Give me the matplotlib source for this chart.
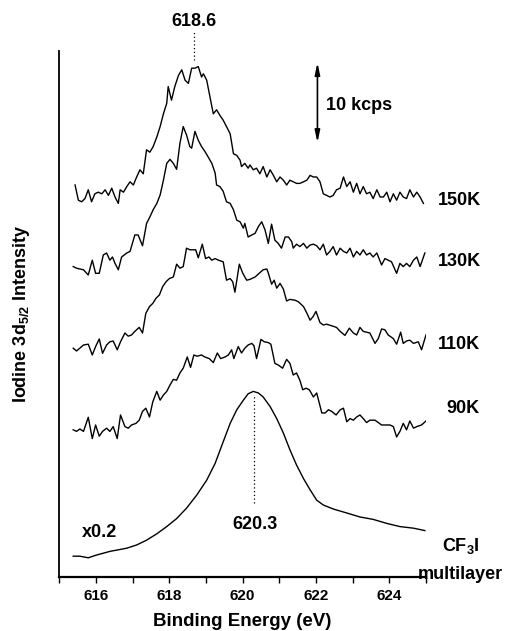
import matplotlib
matplotlib.use("Agg")
import matplotlib.pyplot as plt

plt.rcParams['font.family'] = ['Liberation Sans', 'DejaVu Sans']
plt.rcParams['font.weight'] = 'bold'
plt.rcParams['mathtext.fontset'] = 'custom'
plt.rcParams['mathtext.rm'] = 'Liberation Sans:bold'
plt.rcParams['mathtext.bf'] = 'Liberation Sans:bold'
plt.rcParams['mathtext.it'] = 'Liberation Sans:bold'

# ---------------- data (binding energy in eV, intensity in kcps incl. stacking) -------------
e_150 = [615.43, 615.52, 615.61, 615.70, 615.79, 615.88, 615.97, 616.06, 616.16, 616.25, 616.34, 616.43,
         616.52, 616.61, 616.66, 616.75, 616.84, 616.93, 617.02, 617.11, 617.20, 617.29, 617.38, 617.47,
         617.56, 617.66, 617.75, 617.84, 617.93, 617.97, 618.06, 618.15, 618.25, 618.34, 618.43, 618.52,
         618.61, 618.70, 618.79, 618.88, 618.93, 619.02, 619.11, 619.20, 619.29, 619.38, 619.47, 619.56,
         619.66, 619.75, 619.84, 619.93, 619.97, 620.06, 620.15, 620.20, 620.29, 620.38, 620.47, 620.56,
         620.66, 620.75, 620.84, 620.93, 621.02, 621.11, 621.20, 621.29, 621.38, 621.47, 621.56, 621.66,
         621.75, 621.84, 621.93, 622.02, 622.11, 622.20, 622.29, 622.38, 622.47, 622.56, 622.66, 622.75,
         622.84, 622.93, 623.02, 623.11, 623.20, 623.29, 623.38, 623.47, 623.56, 623.66, 623.75, 623.84,
         623.93, 624.02, 624.11, 624.20, 624.29, 624.38, 624.47, 624.56, 624.66, 624.75, 624.84, 624.93]
i_150 = [49.0, 47.1, 46.9, 47.3, 48.4, 46.9, 47.9, 48.1, 47.9, 48.4, 47.7, 48.6,
         47.5, 46.7, 48.4, 48.1, 48.8, 49.4, 49.0, 50.0, 50.9, 50.4, 53.4, 53.1,
         53.8, 55.0, 56.3, 57.9, 59.2, 61.3, 59.6, 61.3, 62.7, 63.4, 62.1, 61.7,
         63.6, 63.6, 63.8, 62.5, 62.9, 62.1, 60.0, 57.9, 58.4, 57.7, 57.1, 56.3,
         55.4, 52.9, 52.7, 52.1, 51.3, 51.7, 51.1, 51.5, 50.9, 51.1, 50.4, 51.3,
         50.0, 50.9, 50.2, 49.4, 50.0, 49.6, 49.0, 49.6, 49.4, 49.2, 49.2, 49.4,
         49.6, 50.2, 50.0, 50.0, 49.4, 47.9, 47.7, 47.5, 47.7, 48.4, 48.6, 50.0,
         48.8, 49.4, 48.1, 49.2, 47.9, 48.8, 47.9, 48.1, 47.3, 48.4, 47.5, 47.5,
         48.1, 46.9, 47.9, 47.1, 48.1, 47.5, 47.3, 48.4, 47.5, 48.1, 47.5, 46.7]

e_130 = [615.38, 615.47, 615.56, 615.66, 615.79, 615.90, 615.99, 616.09, 616.20, 616.29, 616.38, 616.45,
         616.52, 616.61, 616.70, 616.84, 616.93, 617.06, 617.15, 617.27, 617.38, 617.47, 617.56, 617.66,
         617.75, 617.84, 617.93, 618.02, 618.11, 618.20, 618.29, 618.38, 618.47, 618.56, 618.61, 618.70,
         618.79, 618.88, 618.97, 619.06, 619.16, 619.25, 619.29, 619.38, 619.47, 619.56, 619.66, 619.75,
         619.84, 619.93, 620.02, 620.06, 620.15, 620.25, 620.34, 620.43, 620.52, 620.61, 620.70, 620.79,
         620.88, 620.97, 621.06, 621.16, 621.25, 621.34, 621.38, 621.47, 621.56, 621.66, 621.75, 621.84,
         621.93, 622.02, 622.11, 622.20, 622.29, 622.38, 622.47, 622.56, 622.66, 622.75, 622.84, 622.93,
         623.02, 623.11, 623.20, 623.29, 623.38, 623.47, 623.56, 623.66, 623.79, 623.88, 623.97, 624.06,
         624.20, 624.29, 624.38, 624.47, 624.56, 624.66, 624.75, 624.84, 624.97]
i_130 = [38.8, 38.6, 38.5, 38.4, 37.75, 39.6, 37.96, 37.96, 40.25, 40.5, 39.6, 40.0,
         39.2, 38.4, 40.0, 40.5, 40.7, 42.75, 42.75, 41.4, 44.2, 45.0, 45.9, 46.7,
         47.75, 49.6, 51.7, 52.2, 51.7, 50.96, 54.2, 56.3, 55.25, 53.8, 53.6, 55.7,
         54.6, 53.8, 53.2, 52.5, 51.7, 50.5, 49.0, 48.8, 48.2, 46.9, 46.7, 45.9,
         44.6, 44.4, 43.6, 44.2, 42.5, 42.75, 42.96, 43.8, 44.4, 43.4, 41.7, 44.1,
         42.1, 41.7, 41.1, 42.5, 42.5, 41.9, 41.1, 41.6, 41.3, 41.7, 41.1, 41.5,
         41.6, 41.4, 40.9, 41.6, 40.25, 40.7, 41.3, 40.25, 41.1, 40.7, 40.5, 41.1,
         40.0, 40.7, 40.25, 40.9, 40.25, 40.5, 40.0, 40.5, 39.0, 39.8, 39.6, 39.4,
         37.96, 39.2, 38.8, 39.2, 38.8, 39.6, 40.0, 38.8, 40.5]

e_110 = [615.38, 615.47, 615.56, 615.66, 615.79, 615.90, 615.99, 616.09, 616.18, 616.29, 616.38, 616.47,
         616.58, 616.67, 616.79, 616.88, 616.97, 617.06, 617.18, 617.27, 617.36, 617.46, 617.55, 617.64,
         617.73, 617.82, 617.91, 618.00, 618.11, 618.20, 618.29, 618.38, 618.47, 618.56, 618.66, 618.72,
         618.79, 618.90, 618.99, 619.08, 619.16, 619.25, 619.34, 619.47, 619.56, 619.66, 619.73, 619.79,
         619.91, 620.00, 620.11, 620.20, 620.34, 620.46, 620.56, 620.66, 620.70, 620.79, 620.86, 620.93,
         621.02, 621.11, 621.20, 621.29, 621.43, 621.52, 621.66, 621.75, 621.84, 621.93, 622.00, 622.11,
         622.20, 622.29, 622.43, 622.56, 622.66, 622.79, 622.91, 623.02, 623.11, 623.20, 623.29, 623.38,
         623.47, 623.61, 623.70, 623.79, 623.88, 623.97, 624.11, 624.20, 624.31, 624.38, 624.47, 624.56,
         624.66, 624.79, 624.88, 625.00]
i_110 = [28.6, 28.25, 28.6, 29.0, 29.1, 27.75, 28.8, 29.75, 27.96, 29.0, 29.4, 29.5,
         28.4, 29.4, 30.5, 30.1, 30.25, 30.7, 31.2, 30.5, 32.96, 33.8, 34.2, 34.85,
         35.25, 36.3, 36.9, 37.3, 37.5, 39.1, 38.6, 38.8, 41.1, 40.9, 40.9, 40.9,
         39.9, 41.6, 39.8, 40.0, 39.6, 39.8, 39.6, 39.4, 37.1, 37.3, 36.9, 35.6,
         39.1, 38.0, 37.1, 37.2, 37.5, 38.0, 38.4, 38.5, 38.0, 36.6, 37.1, 36.1,
         36.7, 36.0, 34.5, 34.7, 34.6, 34.4, 33.8, 33.0, 32.1, 32.6, 33.2, 31.8,
         31.5, 31.6, 31.4, 31.2, 30.7, 30.2, 31.1, 30.5, 30.25, 31.2, 30.7, 30.6,
         30.5, 29.2, 29.8, 31.0, 30.9, 30.25, 29.8, 29.1, 30.6, 29.2, 29.5, 29.6,
         29.2, 29.4, 28.4, 30.25]

e_90 = [615.38, 615.47, 615.56, 615.66, 615.79, 615.90, 615.99, 616.09, 616.18, 616.29, 616.38, 616.47,
        616.58, 616.67, 616.79, 616.88, 616.97, 617.09, 617.18, 617.27, 617.36, 617.46, 617.55, 617.66,
        617.75, 617.84, 617.93, 618.02, 618.11, 618.20, 618.29, 618.38, 618.49, 618.58, 618.67, 618.76,
        618.88, 618.97, 619.09, 619.20, 619.31, 619.40, 619.52, 619.61, 619.70, 619.76, 619.88, 619.97,
        620.06, 620.15, 620.25, 620.31, 620.38, 620.50, 620.59, 620.70, 620.77, 620.88, 620.97, 621.09,
        621.20, 621.29, 621.38, 621.47, 621.56, 621.64, 621.73, 621.82, 621.93, 622.02, 622.16, 622.25,
        622.34, 622.43, 622.55, 622.66, 622.75, 622.84, 622.93, 623.02, 623.11, 623.20, 623.29, 623.38,
        623.47, 623.61, 623.70, 623.79, 623.88, 624.02, 624.11, 624.20, 624.29, 624.38, 624.47, 624.56,
        624.66, 624.75, 624.88, 625.00]
i_90 = [18.4, 18.2, 18.5, 18.2, 19.96, 17.3, 19.0, 17.6, 18.2, 18.6, 18.2, 18.8,
        17.3, 20.25, 18.8, 18.6, 19.0, 19.2, 19.6, 20.7, 21.1, 20.0, 21.9, 23.2,
        22.1, 22.75, 23.2, 24.0, 24.7, 24.6, 25.5, 26.1, 27.5, 26.2, 27.75, 27.6,
        27.75, 27.5, 27.3, 26.8, 28.0, 27.3, 27.5, 27.75, 28.4, 27.3, 28.8, 28.0,
        28.6, 29.0, 29.2, 28.9, 27.3, 29.7, 29.4, 29.3, 29.1, 26.7, 26.5, 26.1,
        27.2, 26.7, 25.25, 25.5, 24.6, 23.4, 23.6, 23.4, 22.5, 23.0, 20.5, 20.5,
        20.9, 20.7, 20.25, 20.9, 21.1, 19.4, 19.8, 19.6, 20.0, 20.25, 19.8, 19.3,
        19.6, 19.6, 19.3, 19.0, 19.0, 19.0, 18.8, 17.5, 18.2, 19.2, 18.4, 19.5,
        18.6, 18.8, 19.0, 19.5]

e_cf3i = [615.38, 615.56, 615.79, 616.02, 616.38, 616.84, 617.11, 617.38, 617.66, 617.93, 618.20, 618.47,
          618.75, 619.02, 619.25, 619.47, 619.66, 619.84, 620.02, 620.15, 620.29, 620.43, 620.56, 620.75,
          620.93, 621.11, 621.29, 621.47, 621.66, 621.84, 622.02, 622.20, 622.47, 622.84, 623.20, 623.56,
          623.93, 624.29, 624.66, 624.97]
i_cf3i = [2.6, 2.6, 2.4, 2.75, 3.2, 3.6, 4.0, 4.6, 5.4, 6.3, 7.3, 8.6,
          10.25, 12.1, 14.2, 16.9, 19.2, 20.9, 22.1, 22.9, 23.2, 23.0, 22.5, 21.3,
          19.8, 18.0, 15.9, 14.0, 12.3, 10.9, 9.6, 9.0, 8.5, 8.0, 7.5, 7.2,
          6.7, 6.3, 6.1, 5.8]

spectra_labels = ['150K', '130K', '110K', '90K']
label_levels = [47.1, 39.4, 29.0, 21.0]
peak_positions = [618.67, 620.31]
peak_texts = ['618.6', '620.3']
xticks = [616, 618, 620, 622, 624]
scale_bar_kcps = 10

# ---------------- figure ----------------
FS = 13
fig = plt.figure(figsize=(5.05, 6.31), dpi=100)
ax = fig.add_axes([0.1174, 0.0856, 0.7261, 0.8336])

for e, i in [(e_150, i_150), (e_130, i_130), (e_110, i_110), (e_90, i_90), (e_cf3i, i_cf3i)]:
    ax.plot(e, i, color='black', lw=1.0)

ax.set_xlim(615, 625)
ax.set_ylim(0, 65.75)

# peak markers
ax.plot([peak_positions[0]] * 2, [64.6, 68.1], color='black', lw=0.9, ls=(0, (1, 2)), clip_on=False)
ax.text(peak_positions[0] + 0.01, 69.4, peak_texts[0], ha='center', va='center', fontsize=FS,
        fontweight='bold')
ax.plot([peak_positions[1]] * 2, [9.3, 22.8], color='black', lw=0.9, ls=(0, (1, 2)))
ax.text(peak_positions[1] + 0.04, 6.5, peak_texts[1], ha='center', va='center', fontsize=FS,
        fontweight='bold')

ax.text(615.62, 5.5, 'x0.2', ha='left', va='center', fontsize=FS, fontweight='bold')

# scale bar
ax.annotate('', xy=(622.04, 54.3), xytext=(622.04, 54.3 + scale_bar_kcps),
            arrowprops=dict(arrowstyle='<|-|>,head_length=0.7,head_width=0.15', color='black', lw=1.2,
                            shrinkA=0, shrinkB=0))
ax.text(622.27, 58.9, '%d kcps' % scale_bar_kcps, ha='left', va='center', fontsize=FS, fontweight='bold')

# right-side labels
for lab, lev in zip(spectra_labels, label_levels):
    xpos = 625.33 if len(lab) == 4 else 625.55
    ax.text(xpos, lev, lab, ha='left', va='center', fontsize=FS, fontweight='bold', clip_on=False)
ax.text(625.95, 3.9, r'CF$_3$I', ha='center', va='center', fontsize=FS, fontweight='bold', clip_on=False)
ax.text(625.95, 0.25, 'multilayer', ha='center', va='center', fontsize=FS, fontweight='bold', clip_on=False)

# axes styling
for s in ['top', 'right']:
    ax.spines[s].set_visible(False)
ax.spines['left'].set_linewidth(1.3)
ax.spines['bottom'].set_linewidth(1.6)
ax.set_yticks([])
ax.set_xticks(xticks)
ax.set_xticks(list(range(615, 626)), minor=True)
ax.tick_params(axis='x', which='both', direction='out', length=4, width=1.0, pad=5)
for t in ax.get_xticklabels():
    t.set_fontsize(11)
    t.set_fontweight('bold')
ax.set_xlabel('Binding Energy (eV)', fontsize=13.5, fontweight='bold', labelpad=7)
ax.set_ylabel(r'Iodine 3d$_{5/2}$ Intensity', fontsize=13, fontweight='bold', labelpad=20)

fig.savefig('out.png', dpi=100)
